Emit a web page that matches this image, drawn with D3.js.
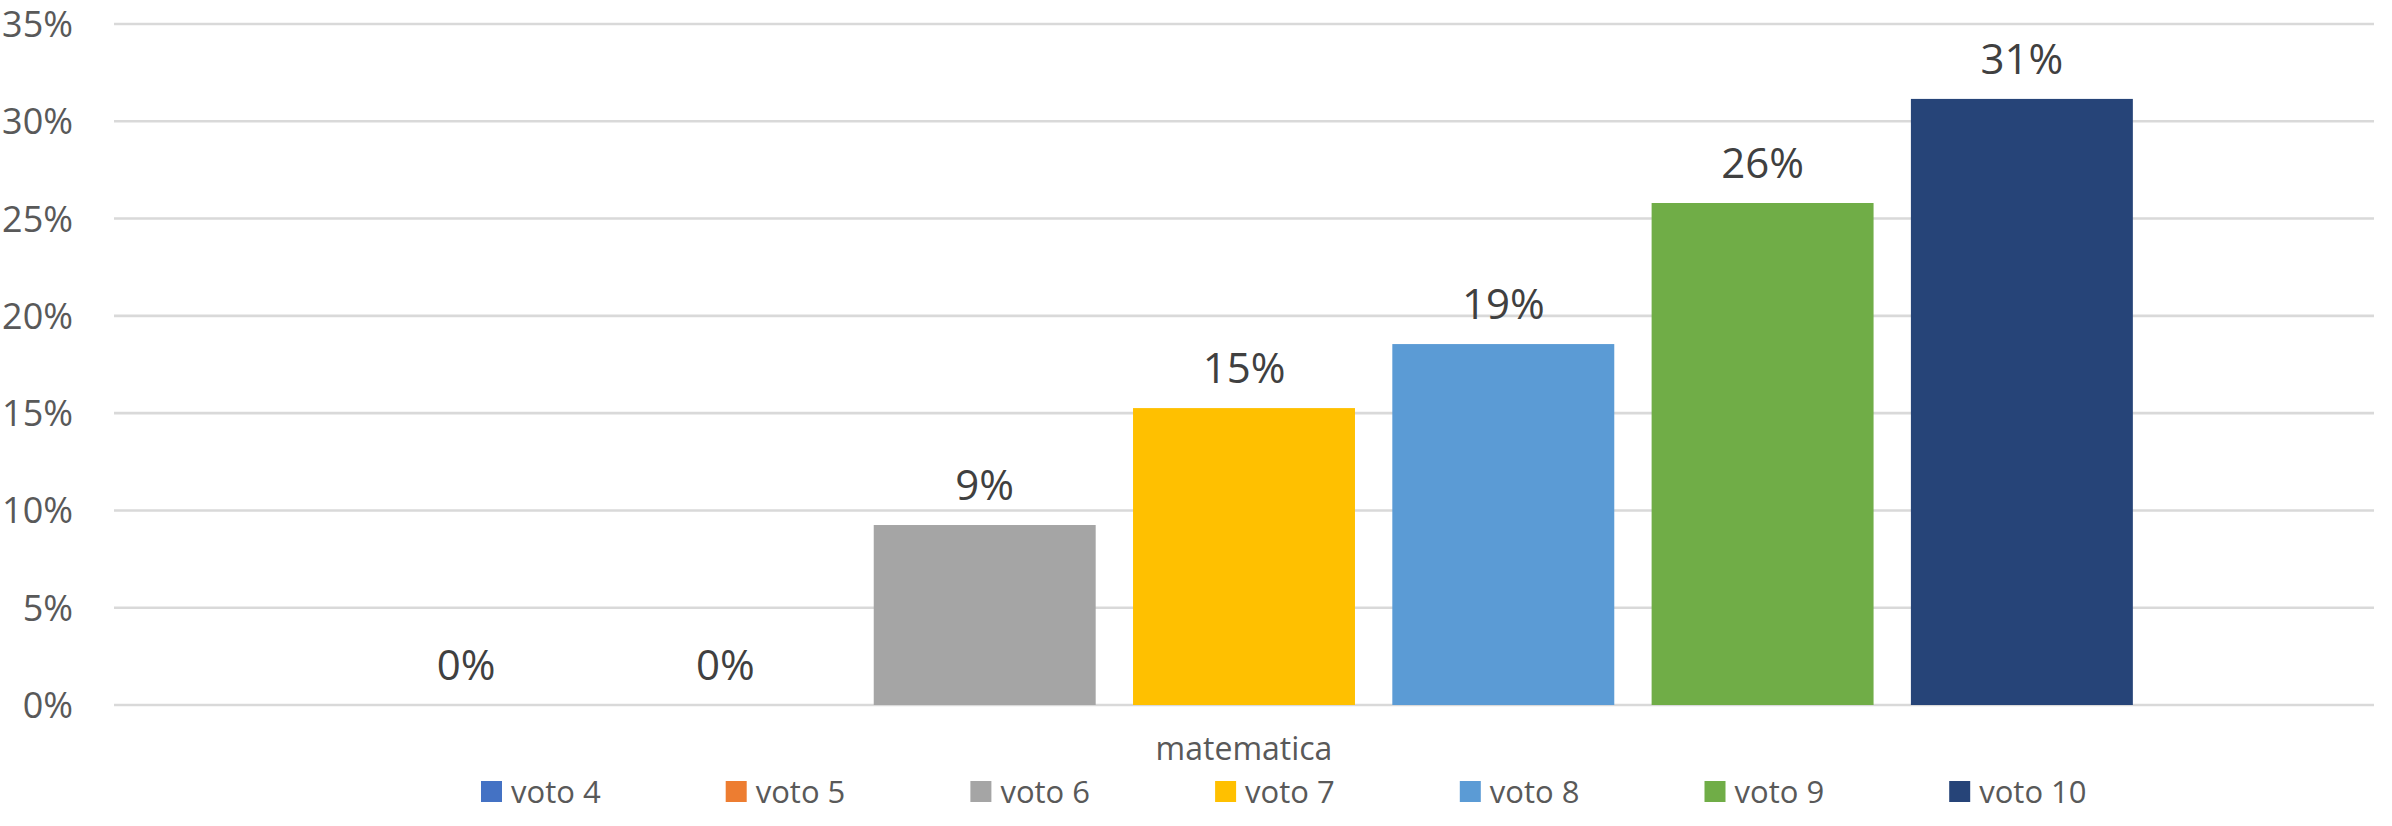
<!DOCTYPE html>
<html>
<head>
<meta charset="utf-8">
<script src="https://cdn.jsdelivr.net/npm/d3@7"></script>
<style>
  html, body { margin: 0; padding: 0; background: #ffffff; }
  svg { display: block; }
  text { font-family: "Open Sans", "Noto Sans", sans-serif; }
</style>
</head>
<body>
<svg id="chart" width="2392" height="826"></svg>
<script>
// ---- data ----
const category = "matematica";
const seriesNames = ["voto 4", "voto 5", "voto 6", "voto 7", "voto 8", "voto 9", "voto 10"];
const seriesValues = [0, 0, 9.25, 15.26, 18.55, 25.8, 31.15];   // percent
const seriesColors = ["#4472C4", "#ED7D31", "#A5A5A5", "#FFC000", "#5B9BD5", "#70AD47", "#264478"];
const yTicks = [0, 5, 10, 15, 20, 25, 30, 35];

// ---- layout ----
const W = 2392, H = 826;
const plot = { left: 114, right: 2374, top: 24, bottom: 705 };

const svg = d3.select("#chart");

const y = d3.scaleLinear().domain([0, 35]).range([plot.bottom, plot.top]);
const x = d3.scaleBand()
  .domain(seriesNames)
  .range([plot.left, plot.right])
  .paddingInner(0.144)
  .paddingOuter(0.93);

// gridlines
svg.append("g")
  .selectAll("line")
  .data(yTicks)
  .join("line")
  .attr("x1", plot.left)
  .attr("x2", plot.right)
  .attr("y1", d => y(d))
  .attr("y2", d => y(d))
  .attr("stroke", "#d9d9d9")
  .attr("stroke-width", 2.6);

// y tick labels
svg.append("g")
  .selectAll("text")
  .data(yTicks)
  .join("text")
  .attr("x", 73)
  .attr("y", d => y(d) + 13)
  .attr("text-anchor", "end")
  .attr("font-size", 36)
  .attr("fill", "#595959")
  .text(d => d + "%");

// bars
const data = seriesNames.map((s, i) => ({ name: s, value: seriesValues[i], color: seriesColors[i] }));
svg.append("g")
  .selectAll("rect")
  .data(data)
  .join("rect")
  .attr("x", d => x(d.name))
  .attr("width", x.bandwidth())
  .attr("y", d => y(d.value))
  .attr("height", d => y(0) - y(d.value))
  .attr("fill", d => d.color);

// data labels
svg.append("g")
  .selectAll("text")
  .data(data)
  .join("text")
  .attr("x", d => x(d.name) + x.bandwidth() / 2)
  .attr("y", d => y(d.value) - 25)
  .attr("text-anchor", "middle")
  .attr("font-size", 42)
  .attr("fill", "#404040")
  .text(d => Math.round(d.value) + "%");

// category (x axis) label
svg.append("text")
  .attr("x", (plot.left + plot.right) / 2)
  .attr("y", 760)
  .attr("text-anchor", "middle")
  .attr("font-size", 32)
  .attr("fill", "#595959")
  .text(category);

// legend
const legendStep = 244.7;
const lx = d3.scaleBand()
  .domain(seriesNames)
  .range([481, 481 + legendStep * seriesNames.length]);
const lg = svg.append("g")
  .selectAll("g")
  .data(data)
  .join("g")
  .attr("transform", d => `translate(${lx(d.name)},0)`);
lg.append("rect")
  .attr("x", 0)
  .attr("y", 781)
  .attr("width", 21)
  .attr("height", 21)
  .attr("fill", d => d.color);
lg.append("text")
  .attr("x", 30)
  .attr("y", 803)
  .attr("font-size", 31)
  .attr("fill", "#595959")
  .text(d => d.name);
</script>
</body>
</html>
